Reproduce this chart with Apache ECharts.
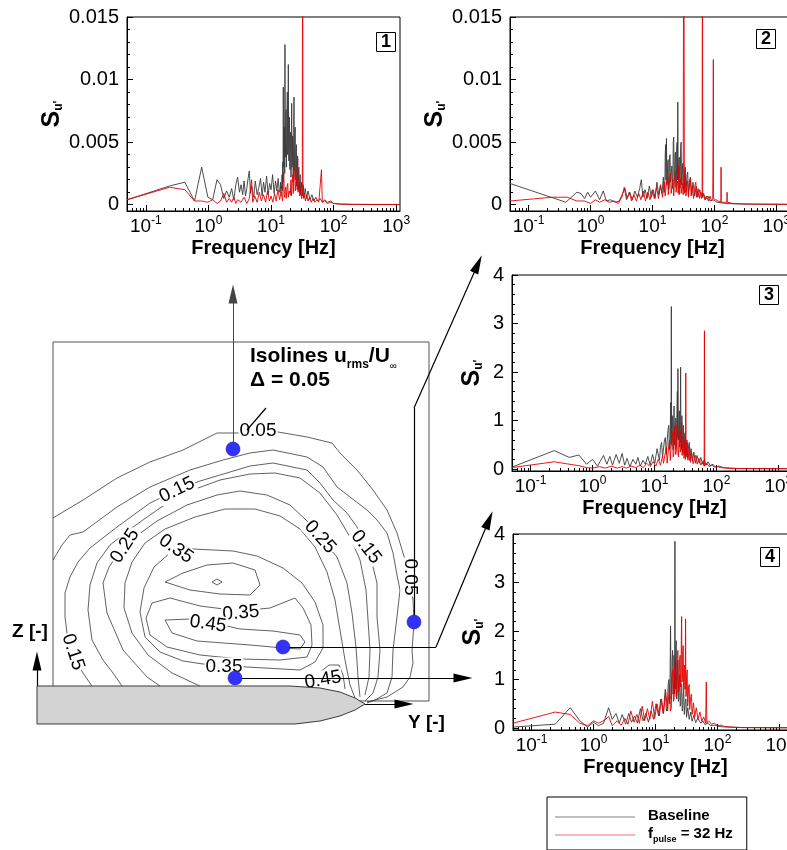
<!DOCTYPE html>
<html><head><meta charset="utf-8">
<script src="https://cdn.jsdelivr.net/npm/echarts@6/dist/echarts.min.js"></script>
<style>html,body{margin:0;padding:0;background:#fff}#c{width:787px;height:850px}</style>
</head><body><div id="c"></div>
<script>
const FONT = "'Liberation Sans', Arial, Helvetica, sans-serif";

// ---------------- spectra: [frequency Hz, S_u'] ----------------
const p1Base = [[0.05,0.0004],[0.24,0.0015],[0.42,0.0018],[0.6,0.0003],[0.78,0.0030],[0.98,0.0006],[1.17,0.0004],[1.37,0.0020],[1.56,0.0016],[1.76,0.0005],[1.95,0.0011],[2.15,0.0006],[2.35,0.0013],[2.54,0.0004],[2.74,0.0016],[2.93,0.0022],[3.13,0.0010],[3.32,0.0016],[3.52,0.0008],[3.71,0.0019],[3.91,0.0007],[4.1,0.0013],[4.3,0.0021],[4.5,0.0027],[4.69,0.0009],[4.89,0.0015],[5.3,0.0006],[5.6,0.0019],[6.0,0.0008],[6.4,0.0014],[6.8,0.0021],[7.2,0.0007],[7.6,0.0018],[8.0,0.0010],[8.5,0.0023],[9.0,0.0008],[9.5,0.0017],[10.0,0.0012],[10.6,0.0024],[11.2,0.0009],[11.8,0.0019],[12.4,0.0011],[13.0,0.0021],[13.6,0.0010],[14.0,0.0012],[14.2,0.0018],[14.4,0.0009],[14.6,0.0015],[14.8,0.0013],[15.0,0.0024],[15.2,0.0011],[15.4,0.0034],[15.55,0.0018],[15.7,0.0094],[15.85,0.0040],[16.0,0.0030],[16.2,0.0055],[16.4,0.0062],[16.55,0.0025],[16.7,0.0128],[16.85,0.0050],[17.0,0.0038],[17.2,0.0066],[17.4,0.0076],[17.6,0.0030],[17.8,0.0029],[18.0,0.0072],[18.2,0.0090],[18.4,0.0040],[18.6,0.0045],[18.75,0.0070],[18.9,0.0112],[19.1,0.0042],[19.3,0.0035],[19.5,0.0065],[19.7,0.0070],[19.9,0.0030],[20.1,0.0028],[20.35,0.0050],[20.6,0.0058],[20.8,0.0022],[21.0,0.0024],[21.2,0.0060],[21.4,0.0081],[21.65,0.0030],[21.9,0.0032],[22.1,0.0055],[22.3,0.0052],[22.55,0.0018],[22.8,0.0020],[23.05,0.0062],[23.3,0.0086],[23.55,0.0028],[23.8,0.0030],[24.05,0.0050],[24.3,0.0062],[24.6,0.0020],[24.9,0.0022],[25.15,0.0042],[25.4,0.0048],[25.7,0.0015],[26.0,0.0016],[26.3,0.0035],[26.6,0.0039],[26.9,0.0012],[27.2,0.0014],[27.55,0.0028],[27.9,0.0030],[28.25,0.0010],[28.6,0.0011],[28.95,0.0022],[29.3,0.0024],[29.7,0.0008],[30.1,0.0009],[30.5,0.0018],[31.0,0.0019],[31.5,0.0007],[32.0,0.0008],[32.6,0.0016],[33.2,0.0015],[33.8,0.0006],[34.5,0.0006],[35.2,0.0013],[36,0.0013],[37,0.0005],[38,0.0005],[39,0.0011],[40,0.0010],[42,0.0004],[45,0.0008],[48,0.0003],[52,0.0006],[56,0.0003],[61,0.0005],[66,0.0002],[72,0.0004],[80,0.0002],[90,0.0003],[100,0.0001],[130,0.00005],[200,0.00003],[400,0.00002],[1150,0.00002]];
const p1Pulse = [[0.05,0.0004],[0.24,0.0014],[0.42,0.0012],[0.6,0.0003],[0.78,0.0003],[0.98,0.0002],[1.17,0.0004],[1.37,0.0001],[1.56,0.0003],[1.76,0.0009],[1.95,0.0002],[2.15,0.0005],[2.35,0.0002],[2.54,0.0006],[2.74,0.0001],[2.93,0.0004],[3.32,0.0002],[3.71,0.0006],[4.1,0.0001],[4.5,0.0005],[4.9,0.0020],[5.1,0.0002],[5.5,0.0007],[6.0,0.0002],[6.5,0.0010],[7.0,0.0003],[7.6,0.0008],[8.2,0.0002],[8.8,0.0011],[9.4,0.0003],[10.0,0.0007],[10.7,0.0002],[11.4,0.0009],[12.1,0.0003],[12.9,0.0012],[13.7,0.0004],[14.5,0.0010],[15.3,0.0003],[15.65,0.0018],[16.0,0.0026],[16.25,0.0008],[16.5,0.0006],[16.85,0.0012],[17.2,0.0014],[17.5,0.0005],[17.8,0.0004],[18.15,0.0015],[18.5,0.0017],[18.85,0.0006],[19.2,0.0005],[19.6,0.0011],[20.0,0.0012],[20.4,0.0008],[20.8,0.0020],[21.15,0.0007],[21.5,0.0006],[21.9,0.0021],[22.3,0.0024],[22.7,0.0009],[23.1,0.0008],[23.55,0.0026],[24.0,0.0029],[24.4,0.0011],[24.8,0.0010],[25.25,0.0020],[25.7,0.0022],[26.2,0.0012],[26.7,0.0037],[27.05,0.0010],[27.4,0.0009],[27.85,0.0016],[28.3,0.0018],[28.75,0.0007],[29.2,0.0006],[29.7,0.0012],[30.2,0.0013],[30.7,0.0005],[31.2,0.0004],[31.6,0.0010],[32.0,0.030],[32.4,0.0011],[32.8,0.0005],[33.4,0.0009],[34,0.0010],[35.5,0.0003],[37,0.0008],[39,0.0003],[41,0.0006],[44,0.0002],[47,0.0005],[50,0.0002],[54,0.0004],[58,0.0002],[62,0.0003],[64,0.0028],[66,0.0002],[72,0.0003],[80,0.0001],[90,0.0002],[100,0.0001],[130,0.00005],[200,0.00003],[1150,0.00002]];
const p2Base = [[0.05,0.0017],[0.4,0.0002],[0.6,0.0010],[0.7,0.0009],[0.8,0.0005],[0.9,0.0010],[1.0,0.0006],[1.2,0.0011],[1.4,0.0004],[1.6,0.0011],[1.8,0.0003],[2.1,0.0004],[2.5,0.0002],[2.9,0.0003],[3.3,0.0009],[3.6,0.0013],[3.9,0.0005],[4.3,0.0010],[4.7,0.0004],[5.2,0.0011],[5.7,0.0006],[6.2,0.0013],[6.6,0.0020],[7.0,0.0006],[7.6,0.0012],[8.2,0.0005],[8.9,0.0015],[9.6,0.0006],[10.3,0.0012],[11.0,0.0005],[11.8,0.0018],[12.6,0.0008],[13.4,0.0015],[14.2,0.0009],[15.0,0.0022],[15.4,0.0010],[15.8,0.0012],[16.05,0.0040],[16.3,0.0048],[16.55,0.0020],[16.8,0.0053],[17.05,0.0016],[17.3,0.0018],[17.6,0.0034],[17.9,0.0036],[18.2,0.0012],[18.5,0.0014],[18.85,0.0038],[19.2,0.0040],[19.55,0.0018],[19.9,0.0020],[20.25,0.0029],[20.6,0.0031],[20.95,0.0013],[21.3,0.0015],[21.65,0.0050],[22.0,0.0054],[22.35,0.0019],[22.7,0.0021],[23.1,0.0040],[23.5,0.0042],[23.9,0.0014],[24.3,0.0016],[24.65,0.0047],[25.0,0.0050],[25.3,0.0020],[25.6,0.0082],[25.95,0.0020],[26.3,0.0022],[26.7,0.0036],[27.1,0.0038],[27.55,0.0013],[28.0,0.0015],[28.5,0.0047],[29.0,0.0050],[29.5,0.0016],[30.0,0.0018],[30.5,0.0031],[31.0,0.0033],[31.7,0.0012],[32.5,0.0014],[33.2,0.0028],[34,0.0030],[34.7,0.0010],[35.5,0.0011],[36.2,0.0024],[37,0.0026],[38,0.0008],[39,0.0009],[40,0.0020],[41,0.0022],[43,0.0008],[45,0.0018],[48,0.0007],[51,0.0015],[54,0.0006],[58,0.0012],[62,0.0005],[67,0.0009],[72,0.0004],[78,0.0007],[85,0.0003],[95,0.0004],[110,0.0002],[150,0.0001],[300,0.00005],[2000,0.00003]];
const p2Pulse = [[0.05,0.0003],[0.24,0.0006],[0.42,0.0006],[0.6,0.0003],[0.8,0.0003],[1.0,0.0001],[1.2,0.0004],[1.4,0.0002],[1.7,0.0004],[2.0,0.0002],[2.4,0.0003],[2.8,0.0001],[3.2,0.0006],[3.5,0.0014],[3.8,0.0004],[4.2,0.0010],[4.6,0.0003],[5.0,0.0008],[5.5,0.0003],[6.0,0.0009],[6.5,0.0004],[7.1,0.0011],[7.7,0.0003],[8.4,0.0010],[9.1,0.0004],[9.9,0.0012],[10.7,0.0005],[11.6,0.0014],[12.5,0.0005],[13.5,0.0016],[14.5,0.0006],[15.0,0.0012],[15.5,0.0018],[16.0,0.0007],[16.5,0.0008],[17.0,0.0019],[17.5,0.0022],[18.0,0.0008],[18.5,0.0009],[19.0,0.0022],[19.5,0.0025],[20.0,0.0009],[20.5,0.0010],[21.0,0.0018],[21.5,0.0020],[22.0,0.0007],[22.5,0.0008],[23.0,0.0024],[23.5,0.0027],[24.0,0.0010],[24.5,0.0011],[25.0,0.0017],[25.5,0.0019],[26.0,0.0009],[26.5,0.0031],[27.0,0.0008],[27.5,0.0009],[28.0,0.0019],[28.5,0.0021],[29.0,0.0009],[29.5,0.0010],[30.0,0.0015],[30.5,0.0017],[31.3,0.0008],[32.0,0.030],[32.7,0.0009],[33.3,0.0022],[34,0.0024],[34.7,0.0007],[35.5,0.0008],[36.2,0.0017],[37,0.0019],[38,0.0006],[39,0.0007],[40,0.0019],[41,0.0021],[42,0.0007],[43,0.0008],[44,0.0015],[45,0.0016],[46,0.0005],[47.5,0.0006],[48.8,0.0016],[50,0.0018],[51.5,0.0006],[53,0.0007],[54.5,0.0013],[56,0.0014],[57.5,0.0005],[59,0.0005],[60.5,0.0010],[62,0.0011],[63.3,0.0006],[64,0.030],[64.7,0.0006],[66,0.0009],[68,0.0010],[70,0.0004],[72,0.0004],[74,0.0007],[76,0.0008],[80,0.0003],[85,0.0007],[90,0.0003],[94,0.0005],[95.5,0.0073],[96,0.0116],[96.5,0.0005],[105,0.0004],[115,0.0003],[127,0.0002],[128,0.0030],[129,0.0002],[145,0.0002],[159,0.0002],[160,0.0010],[161,0.0002],[200,0.0001],[400,0.00005],[2000,0.00003]];
const p3Base = [[0.05,0.04],[0.24,0.38],[0.42,0.24],[0.6,0.29],[0.8,0.10],[1.0,0.20],[1.2,0.06],[1.5,0.28],[1.7,0.10],[1.9,0.26],[2.1,0.08],[2.4,0.30],[2.7,0.12],[3.0,0.32],[3.3,0.08],[3.6,0.22],[4.0,0.05],[4.5,0.20],[5.0,0.10],[5.4,0.24],[5.9,0.06],[6.5,0.18],[7.1,0.10],[7.8,0.26],[8.5,0.08],[9.3,0.30],[10.1,0.12],[11.0,0.42],[12.0,0.18],[12.5,0.45],[13.0,0.55],[13.5,0.25],[14.0,0.22],[14.5,0.60],[15.0,0.65],[15.5,0.30],[16.0,0.30],[16.5,0.80],[17.0,0.90],[17.4,0.40],[17.8,0.45],[18.05,0.95],[18.3,1.37],[18.5,0.50],[18.7,3.35],[18.9,0.55],[19.1,0.60],[19.35,1.10],[19.6,1.00],[19.85,0.45],[20.1,0.40],[20.4,0.95],[20.7,1.30],[21.0,0.50],[21.3,0.55],[21.65,0.98],[22.0,1.05],[22.35,0.42],[22.7,0.45],[23.05,1.20],[23.4,1.60],[23.65,0.65],[23.9,2.07],[24.2,0.60],[24.5,0.70],[24.85,1.00],[25.2,1.20],[25.5,0.45],[25.8,0.50],[26.1,0.95],[26.4,2.10],[26.7,0.55],[27.0,0.80],[27.35,0.40],[27.7,1.10],[28.1,0.35],[28.5,0.40],[28.9,0.85],[29.3,0.90],[29.75,0.30],[30.2,0.35],[30.7,0.70],[31.2,0.75],[31.75,0.25],[32.3,0.30],[32.9,0.55],[33.5,0.60],[34.2,0.22],[35,0.25],[35.7,0.50],[36.5,0.55],[37.2,0.18],[38,0.20],[39,0.42],[40,0.45],[41,0.16],[42,0.18],[43.2,0.35],[44.5,0.38],[45.7,0.12],[47,0.15],[48.5,0.28],[50,0.30],[53,0.12],[56,0.24],[60,0.10],[64,0.20],[68,0.08],[73,0.15],[80,0.06],[88,0.10],[96,0.04],[110,0.06],[130,0.03],[160,0.02],[250,0.01],[2000,0.005]];
const p3Pulse = [[0.05,0.03],[0.24,0.15],[0.42,0.10],[0.6,0.07],[0.8,0.03],[1.0,0.02],[1.3,0.05],[1.6,0.02],[2.0,0.06],[2.5,0.02],[3.0,0.05],[3.5,0.02],[4.2,0.06],[5.0,0.03],[5.8,0.08],[6.6,0.03],[7.5,0.12],[8.5,0.05],[9.5,0.15],[10.5,0.06],[11.5,0.20],[12.5,0.08],[13.5,0.28],[14.0,0.12],[14.5,0.10],[15.0,0.35],[15.5,0.45],[16.0,0.12],[16.5,0.15],[17.0,0.50],[17.5,0.60],[18.0,0.18],[18.5,0.20],[19.0,0.65],[19.5,0.75],[20.0,0.25],[20.5,0.30],[21.0,0.80],[21.5,0.90],[22.0,0.30],[22.5,0.35],[23.0,0.85],[23.5,1.00],[24.0,0.30],[24.5,0.25],[25.0,0.75],[25.5,0.85],[26.0,0.35],[26.5,0.40],[27.0,0.80],[27.5,0.95],[28.0,0.28],[28.5,0.30],[29.0,0.62],[29.5,0.70],[30.0,0.22],[30.5,0.25],[31.0,0.55],[31.3,0.60],[31.6,0.20],[32.0,1.98],[32.4,0.25],[32.7,0.30],[33.3,0.50],[34,0.55],[34.7,0.18],[35.5,0.20],[36.2,0.40],[37,0.45],[38,0.14],[39,0.15],[40,0.32],[41,0.35],[42,0.11],[43,0.12],[46,0.28],[49,0.10],[52,0.22],[56,0.08],[60,0.16],[63.3,0.06],[64,2.85],[64.7,0.06],[70,0.12],[76,0.05],[83,0.09],[92,0.04],[100,0.06],[115,0.03],[140,0.02],[200,0.01],[2000,0.005]];
const p4Base = [[0.05,0.02],[0.24,0.08],[0.42,0.42],[0.6,0.15],[0.8,0.02],[1.0,0.12],[1.2,0.05],[1.45,0.10],[1.75,0.42],[2.0,0.18],[2.3,0.30],[2.6,0.10],[2.9,0.28],[3.3,0.08],[3.7,0.30],[4.1,0.12],[4.6,0.25],[5.1,0.10],[5.7,0.40],[6.3,0.15],[7.0,0.30],[7.7,0.12],[8.5,0.35],[9.3,0.18],[10.2,0.50],[11.2,0.25],[12.2,0.60],[13.3,0.30],[14.4,0.80],[15.0,0.35],[15.5,0.40],[16.0,0.90],[16.5,1.00],[17.0,0.50],[17.5,2.10],[17.85,0.60],[18.2,0.70],[18.55,1.40],[18.9,1.60],[19.25,0.70],[19.6,0.80],[19.9,1.50],[20.2,1.20],[20.4,0.70],[20.6,3.85],[20.8,0.80],[21.0,0.90],[21.3,1.60],[21.6,1.80],[21.95,0.60],[22.3,0.70],[22.65,1.30],[23.0,1.40],[23.4,0.55],[23.8,0.60],[24.2,1.00],[24.6,1.10],[25.05,0.45],[25.5,0.50],[26.0,0.85],[26.5,0.90],[27.0,0.35],[27.5,0.40],[28.05,0.70],[28.6,0.75],[29.2,0.28],[29.8,0.30],[30.4,0.55],[31,0.60],[31.7,0.22],[32.5,0.25],[33.2,0.42],[34,0.45],[35,0.18],[36,0.20],[37,0.33],[38,0.35],[39,0.14],[40,0.15],[41.5,0.26],[43,0.28],[44.5,0.11],[46,0.12],[48,0.20],[50,0.22],[54,0.10],[58,0.15],[63,0.07],[70,0.10],[78,0.05],[90,0.06],[110,0.03],[150,0.02],[250,0.01],[2000,0.005]];
const p4Pulse = [[0.05,0.10],[0.24,0.33],[0.42,0.28],[0.6,0.10],[0.8,0.05],[1.0,0.15],[1.2,0.10],[1.5,0.16],[1.75,0.24],[2.0,0.05],[2.4,0.15],[2.8,0.06],[3.2,0.20],[3.6,0.08],[4.0,0.35],[4.5,0.12],[5.0,0.28],[5.5,0.10],[6.1,0.45],[6.7,0.15],[7.4,0.40],[8.1,0.18],[8.9,0.55],[9.7,0.20],[10.6,0.50],[11.5,0.25],[12.5,0.60],[13.5,0.30],[14.6,0.75],[15.7,0.35],[16.8,0.90],[17.4,0.35],[18.0,0.40],[18.5,1.10],[19.0,1.20],[19.5,0.55],[20.0,0.60],[20.5,1.30],[21.0,1.40],[21.5,0.65],[22.0,0.70],[22.5,1.50],[23.0,1.60],[23.5,0.75],[24.0,0.80],[24.5,1.40],[25.0,1.50],[25.4,0.85],[25.8,0.90],[26.1,1.80],[26.4,2.30],[26.8,0.95],[27.2,1.00],[27.6,1.60],[28.0,1.70],[28.4,0.75],[28.8,0.80],[29.2,1.20],[29.6,1.30],[30.1,0.80],[30.6,2.25],[31.0,0.65],[31.4,0.70],[31.9,1.10],[32.5,1.20],[33.0,0.45],[33.5,0.50],[34.2,0.85],[35,0.90],[35.7,0.38],[36.5,0.40],[37.2,0.65],[38,0.70],[39,0.28],[40,0.30],[41,0.52],[42,0.55],[43,0.23],[44,0.25],[45.5,0.42],[47,0.45],[48.5,0.18],[50,0.20],[52,0.33],[54,0.35],[56,0.14],[58,0.15],[60,0.23],[62,0.25],[64.5,0.10],[66,0.95],[67.5,0.10],[72,0.15],[80,0.08],[90,0.10],[100,0.05],[115,0.06],[130,0.03],[170,0.02],[250,0.01],[2000,0.005]];

const xTickValues = [0.1, 1, 10, 100, 1000];
const yTicksSmall = [0, 0.005, 0.01, 0.015];
const yTicksLarge = [0, 1, 2, 3, 4];
const plotTags = ['1', '2', '3', '4'];
const seriesNames = ['Baseline', 'f_pulse'];

// ---------------- isolines u_rms/U_inf : [Y, Z] ----------------
const iso05 = [[0.00,1.83],[0.30,2.01],[0.64,2.23],[0.97,2.39],[1.30,2.51],[1.64,2.68],[1.84,2.68],[2.25,2.69],[2.54,2.64],[2.79,2.58],[2.87,2.48],[3.04,2.31],[3.20,2.11],[3.34,1.91],[3.44,1.68],[3.50,1.48],[3.57,1.26],[3.60,1.01],[3.61,0.79],[3.60,0.64],[3.59,0.51],[3.60,0.38],[3.57,0.24],[3.50,0.14],[3.34,0.04],[3.14,-0.01]];
const iso10 = [[0,1.41],[0.09,1.56],[0.17,1.66],[0.30,1.69],[0.64,1.94],[0.97,2.14],[1.37,2.31],[1.70,2.41],[1.97,2.48],[2.20,2.51],[2.54,2.44],[2.70,2.34],[2.84,2.14],[2.97,2.04],[3.14,1.91],[3.24,1.81],[3.34,1.68],[3.40,1.48],[3.44,1.26],[3.47,1.11],[3.44,0.84],[3.40,0.51],[3.39,0.24],[3.34,0.08],[3.22,0.01],[3.14,-0.02]];
const iso15 = [[0.39,0.15],[0.30,0.28],[0.20,0.46],[0.14,0.68],[0.12,0.84],[0.12,1.08],[0.17,1.24],[0.25,1.39],[0.37,1.53],[0.64,1.74],[0.97,1.98],[1.24,2.11],[1.47,2.20],[1.77,2.29],[1.97,2.35],[2.20,2.38],[2.54,2.31],[2.67,2.18],[2.80,2.01],[2.94,1.88],[3.04,1.74],[3.15,1.53],[3.20,1.34],[3.24,1.18],[3.24,0.84],[3.27,0.51],[3.25,0.24],[3.20,0.08],[3.12,0.00]];
const iso20 = [[0.69,0.15],[0.60,0.28],[0.50,0.41],[0.39,0.61],[0.35,0.91],[0.37,1.16],[0.44,1.38],[0.57,1.56],[0.80,1.74],[1.07,1.93],[1.37,2.10],[1.67,2.21],[1.97,2.27],[2.22,2.28],[2.47,2.23],[2.67,2.08],[2.84,1.86],[2.97,1.64],[3.07,1.41],[3.13,1.11],[3.15,0.81],[3.17,0.51],[3.16,0.24],[3.12,0.06]];
const iso25 = [[1.07,0.15],[0.94,0.24],[0.70,0.51],[0.54,0.88],[0.50,1.18],[0.56,1.34],[0.66,1.48],[0.78,1.61],[1.04,1.80],[1.34,1.96],[1.64,2.06],[1.87,2.10],[2.14,2.06],[2.37,1.96],[2.54,1.80],[2.69,1.61],[2.84,1.44],[2.94,1.18],[2.99,0.88],[3.03,0.54],[3.05,0.24],[3.07,0.04]];
const iso30 = [[1.47,0.15],[1.19,0.28],[0.95,0.46],[0.79,0.68],[0.71,0.93],[0.72,1.18],[0.79,1.39],[0.92,1.58],[1.12,1.72],[1.42,1.84],[1.72,1.92],[2.02,1.92],[2.27,1.85],[2.47,1.72],[2.62,1.54],[2.74,1.29],[2.82,1.01],[2.87,0.71],[2.92,0.41],[2.97,0.16],[3.02,0.03]];
const iso35 = [[2.47,0.31],[1.94,0.34],[1.50,0.37],[1.30,0.40],[1.07,0.49],[0.92,0.64],[0.87,0.89],[0.91,1.13],[1.01,1.34],[1.17,1.48],[1.40,1.52],[1.80,1.50],[2.04,1.45],[2.30,1.33],[2.49,1.18],[2.62,0.99],[2.70,0.76],[2.70,0.53],[2.62,0.39],[2.47,0.31]];
const iso40 = [[2.42,1.03],[2.17,0.93],[1.87,0.90],[1.47,0.95],[1.17,1.03],[0.99,0.98],[0.93,0.83],[0.97,0.66],[1.14,0.54],[1.47,0.46],[1.87,0.42],[2.27,0.41],[2.54,0.44],[2.59,0.56],[2.58,0.76],[2.50,0.93],[2.42,1.03]];
const iso40eye = [[1.12,1.19],[1.30,1.28],[1.54,1.36],[1.80,1.38],[2.02,1.31],[2.07,1.16],[1.97,1.06],[1.67,1.07],[1.37,1.11],[1.12,1.19]];
const isoPeak = [[1.59,1.19],[1.64,1.22],[1.69,1.19],[1.64,1.16],[1.59,1.19]];
const iso45 = [[1.12,0.81],[1.37,0.82],[1.74,0.75],[1.87,0.72],[2.20,0.70],[2.47,0.66],[2.52,0.59],[2.47,0.52],[2.30,0.53],[1.97,0.56],[1.44,0.60],[1.19,0.68],[1.12,0.81]];
const iso45b = [[2.66,0.15],[2.66,0.28],[2.76,0.36],[2.86,0.36],[2.90,0.26],[2.92,0.12]];

const isoLabelText = ['0.05','0.15','0.25','0.35','0.25','0.15','0.05','0.35','0.45','0.35','0.45','0.15'];
const isoLabelY    = [2.05, 1.24, 0.72, 1.23, 2.67, 3.13, 3.57, 1.88, 1.55, 1.71, 2.70, 0.20];
const isoLabelZ    = [2.70, 2.11, 1.55, 1.52, 1.64, 1.54, 1.24, 0.88, 0.77, 0.34, 0.21, 0.49];
const isoLabelRot  = [0, 26, 57, -35, -48, -52, -90, 5, -8, 0, 10, -72];

const probes = [[1.80,2.52],[3.61,0.79],[2.30,0.54],[1.82,0.23]];
const bodyOutline = [[-0.16,0.15],[2.37,0.15],[2.67,0.13],[2.87,0.09],[3.02,0.03],[3.12,-0.03],[3.02,-0.09],[2.87,-0.15],[2.67,-0.20],[2.42,-0.23],[-0.16,-0.23]];
const leaderSegments = [[[3.61,0.79],[3.61,2.93]], [[2.30,0.54],[3.83,0.54]], [[1.94,2.71],[2.13,2.93]]];
const arrowSegments = [[[3.61,2.93],[4.25,4.37]], [[3.83,0.54],[4.36,1.81]], [[1.82,0.23],[4.10,0.23]], [[-0.16,0.15],[-0.16,0.40]], [[3.12,-0.03],[3.51,-0.03]]];
const probe1Arrow = [[1.80,2.52],[1.80,4.07]];

// ---------------- build ----------------
function minorLogTicks(max) {
  const out = [];
  for (let e = -2; e <= 3; e++) for (let k = 2; k <= 9; k++) {
    const v = k * Math.pow(10, e);
    if (v > 0.05 && v < max) out.push(v);
  }
  return out;
}
function minorLinTicks(step, n, every) {
  const out = [];
  for (let i = 1; i <= n; i++) if (i % every) out.push(+(i * step).toFixed(6));
  return out;
}

const plots = [
  {g:{left:127,top:17,width:273,height:194}, xmax:1150, ymin:-0.0005, ymax:0.015, yt:yTicksSmall, ym:minorLinTicks(0.001,15,5), base:p1Base, pulse:p1Pulse, ngap:58, tag:[376,32]},
  {g:{left:510,top:17,width:285,height:194}, xmax:2000, ymin:-0.0005, ymax:0.015, yt:yTicksSmall, ym:minorLinTicks(0.001,15,5), base:p2Base, pulse:p2Pulse, ngap:55, tag:[756,29]},
  {g:{left:512,top:275,width:285,height:196}, xmax:2000, ymin:-0.04, ymax:4, yt:yTicksLarge, ym:minorLinTicks(0.2,20,5), base:p3Base, pulse:p3Pulse, ngap:27, tag:[759,285]},
  {g:{left:513,top:534,width:285,height:196}, xmax:2000, ymin:-0.04, ymax:4, yt:yTicksLarge, ym:minorLinTicks(0.2,20,5), base:p4Base, pulse:p4Pulse, ngap:27, tag:[760,547]}
];

const grids = [], xAxes = [], yAxes = [], series = [], titles = [];
const black = {color:'#000', width:1};
plots.forEach((p, i) => {
  grids.push(Object.assign({show:true, borderColor:'#000', borderWidth:1, backgroundColor:'rgba(0,0,0,0)', containLabel:false, outerBoundsMode:'none'}, p.g));
  xAxes.push({type:'log', gridIndex:i, min:0.05, max:p.xmax, position:'bottom',
    axisLine:{show:true, onZero:false, lineStyle:black},
    axisTick:{show:true, inside:true, length:6, customValues:xTickValues, lineStyle:black},
    axisLabel:{show:true, customValues:xTickValues, margin:4,
      formatter: v => '{b|10}{s|' + Math.round(Math.log10(v)) + '}',
      rich:{b:{fontSize:19, fontFamily:FONT, color:'#000', verticalAlign:'bottom'},
            s:{fontSize:12, fontFamily:FONT, color:'#000', verticalAlign:'bottom', padding:[0,0,9,0]}}},
    splitLine:{show:false}, minorTick:{show:false},
    name:'Frequency [Hz]', nameLocation:'middle', nameGap:27,
    nameTextStyle:{fontSize:20, fontWeight:'bold', fontFamily:FONT, color:'#000'}});
  xAxes.push({type:'log', gridIndex:i, min:0.05, max:p.xmax, position:'bottom',
    axisLine:{show:false, onZero:false}, axisLabel:{show:false}, splitLine:{show:false},
    axisTick:{show:true, inside:true, length:3, customValues:minorLogTicks(p.xmax), lineStyle:black}});
  yAxes.push({type:'value', gridIndex:i, min:p.ymin, max:p.ymax, position:'left',
    axisLine:{show:true, onZero:false, lineStyle:black},
    axisTick:{show:true, inside:true, length:6, customValues:p.yt, lineStyle:black},
    axisLabel:{show:true, customValues:p.yt, margin:8, fontSize:20, fontFamily:FONT, color:'#000'},
    splitLine:{show:false},
    name:"{S|S}{u|u'}", nameLocation:'middle', nameRotate:90, nameGap:p.ngap,
    nameTextStyle:{rich:{S:{fontSize:25, fontWeight:'bold', fontFamily:FONT, color:'#000', verticalAlign:'bottom'},
                         u:{fontSize:12, fontWeight:'bold', fontFamily:FONT, color:'#000', verticalAlign:'bottom'}}}});
  yAxes.push({type:'value', gridIndex:i, min:p.ymin, max:p.ymax, position:'left',
    axisLine:{show:false, onZero:false}, axisLabel:{show:false}, splitLine:{show:false},
    axisTick:{show:true, inside:true, length:3, customValues:p.ym, lineStyle:black}});
  series.push({type:'line', name:seriesNames[0], xAxisIndex:2*i, yAxisIndex:2*i, data:p.base,
    showSymbol:false, symbol:'none', lineStyle:{color:'#3a3a3a', width:0.9}, itemStyle:{color:'#3a3a3a'}, z:2, silent:true});
  series.push({type:'line', name:seriesNames[1], xAxisIndex:2*i, yAxisIndex:2*i, data:p.pulse,
    showSymbol:false, symbol:'none', lineStyle:{color:'#e30000', width:0.9}, itemStyle:{color:'#e30000'}, z:3, silent:true});
  titles.push({text:plotTags[i], left:p.tag[0], top:p.tag[1], padding:[1,5,1,5], borderColor:'#000', borderWidth:1,
    backgroundColor:'#fff', textStyle:{fontSize:18, fontWeight:'bold', fontFamily:FONT, color:'#000', lineHeight:18}});
});

// contour panel (grid 4)
grids.push({left:53, top:342, width:376, height:359, show:true, borderColor:'#555', borderWidth:1, backgroundColor:'rgba(0,0,0,0)', containLabel:false, outerBoundsMode:'none'});
xAxes.push({type:'value', gridIndex:4, min:0, max:3.76, show:false});
yAxes.push({type:'value', gridIndex:4, min:0, max:3.59, show:false});
const CX = 8, CY = 8;
[iso05, iso10, iso15, iso20, iso25, iso30, iso35, iso40, iso40eye, isoPeak, iso45, iso45b].forEach(d => {
  series.push({type:'line', xAxisIndex:CX, yAxisIndex:CY, data:d, showSymbol:false, symbol:'none', clip:false, silent:true,
    lineStyle:{color:'#3a3a3a', width:0.8}, z:2});
});
series.push({type:'scatter', xAxisIndex:CX, yAxisIndex:CY, symbol:'circle', symbolSize:2, clip:false, silent:true, z:4,
  itemStyle:{color:'rgba(255,255,255,0)'},
  data: isoLabelText.map((t, k) => ({value:[isoLabelY[k], isoLabelZ[k], t], label:{rotate:isoLabelRot[k]}})),
  label:{show:true, position:'inside', formatter: p => p.value[2], fontSize:19, fontFamily:FONT, color:'#000',
    textBorderWidth:0, opacity:1, backgroundColor:'#fff', padding:[0,1,0,1]}});
series.push({type:'lines', coordinateSystem:'cartesian2d', xAxisIndex:CX, yAxisIndex:CY, polyline:false, clip:false, silent:true, z:5,
  symbol:'none', lineStyle:{color:'#000', width:1.2, opacity:1},
  data: leaderSegments.map(c => ({coords:c}))});
series.push({type:'lines', coordinateSystem:'cartesian2d', xAxisIndex:CX, yAxisIndex:CY, polyline:false, clip:false, silent:true, z:5,
  symbol:['none','triangle'], symbolSize:[0,[9,19]], lineStyle:{color:'#000', width:1.2, opacity:1},
  data: arrowSegments.map(c => ({coords:c})).concat([{coords:probe1Arrow, lineStyle:{color:'#444', width:1}}])});
series.push({type:'custom', xAxisIndex:CX, yAxisIndex:CY, coordinateSystem:'cartesian2d', data:bodyOutline, clip:false, silent:true, z:7,
  encode:{x:0, y:1},
  renderItem:(params, api) => {
    if (params.dataIndex !== 0) return null;
    return {type:'polygon', shape:{points: bodyOutline.map(pt => api.coord(pt))}, style:{fill:'#d3d3d3', stroke:'#3a3a3a', lineWidth:1}};
  }});
series.push({type:'scatter', xAxisIndex:CX, yAxisIndex:CY, data:probes, symbolSize:14, clip:false, silent:true, z:8,
  itemStyle:{color:'#3232ff', borderColor:'#1a1a9a', borderWidth:0.6, opacity:1}});

const option = {
  animation:false,
  backgroundColor:'#fff',
  textStyle:{fontFamily:FONT},
  title: titles,
  grid: grids, xAxis: xAxes, yAxis: yAxes, series: series,
  legend:{left:547, top:797, orient:'vertical', icon:'rect', itemWidth:80, itemHeight:1, itemGap:3,
    padding:[11,14,6,8], borderColor:'#000', borderWidth:1, backgroundColor:'#fff', selectedMode:false,
    data:[{name:'Baseline', itemStyle:{color:'#808080'}}, {name:'f_pulse', itemStyle:{color:'#f07070'}}],
    formatter: n => n === 'Baseline' ? '{p0|Baseline}' : '{p0|f}{s|pulse}{p| = 32 Hz}',
    textStyle:{rich:{
      p0:{fontSize:15, fontWeight:'bold', fontFamily:FONT, color:'#000', verticalAlign:'bottom', padding:[0,0,3,8]},
      p:{fontSize:15, fontWeight:'bold', fontFamily:FONT, color:'#000', verticalAlign:'bottom', padding:[0,0,3,0]},
      s:{fontSize:9, fontWeight:'bold', fontFamily:FONT, color:'#000', verticalAlign:'bottom'}}}},
  graphic:[
    {type:'text', left:250, top:346, z:10, style:{
      text:'{b|Isolines u}{s|rms}{b|/U}{i|\u221e}\n{b|\u0394 = 0.05}',
      rich:{b:{fontSize:21, fontWeight:'bold', fontFamily:FONT, fill:'#000', lineHeight:24, verticalAlign:'bottom', padding:[0,0,4,0]},
            s:{fontSize:12, fontWeight:'bold', fontFamily:FONT, fill:'#000', verticalAlign:'bottom'},
            i:{fontSize:10, fontFamily:FONT, fill:'#000', verticalAlign:'bottom'}}}},
    {type:'text', left:12, top:622, z:10, style:{text:'Z [-]', fontSize:19, fontWeight:'bold', fontFamily:FONT, fill:'#000'}},
    {type:'text', left:408, top:713, z:10, style:{text:'Y [-]', fontSize:19, fontWeight:'bold', fontFamily:FONT, fill:'#000'}}
  ]
};

const chart = echarts.init(document.getElementById('c'), null, {renderer:'canvas'});
chart.setOption(option);
</script></body></html>
